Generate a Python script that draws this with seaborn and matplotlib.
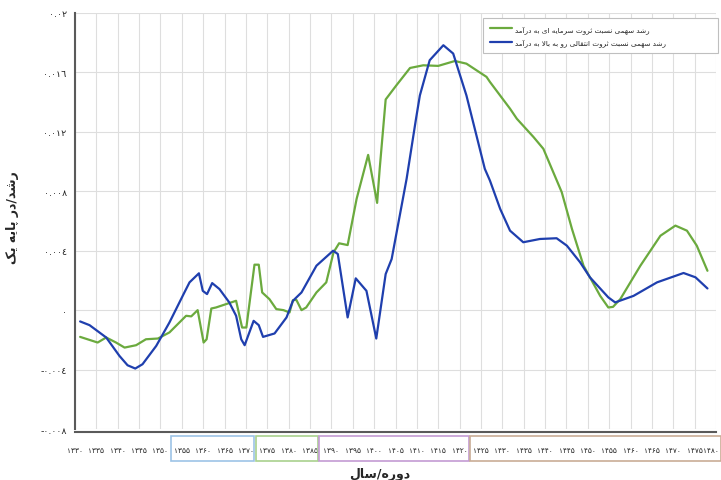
import numpy as np
import pandas as pd
import matplotlib
matplotlib.use('Agg')
import matplotlib.pyplot as plt
import matplotlib.transforms as mtransforms
from matplotlib.patches import Rectangle
import seaborn as sns

# --- data ---
years_green = [1331.2, 1335.3, 1337.3, 1339.6, 1341.6, 1344.3, 1346.6, 1349.4, 1352.1, 1356.0,
               1357.2, 1358.7, 1360.1, 1360.8, 1361.9, 1363.0, 1367.7, 1369.1, 1370.1, 1372.0,
               1373.0, 1373.8, 1375.5, 1377.1, 1378.8, 1380.2, 1381.0, 1381.8, 1383.0, 1384.1,
               1386.5, 1388.8, 1390.5, 1391.8, 1393.8, 1395.9, 1398.6, 1400.7, 1401.3, 1402.7,
               1405.2, 1408.4, 1411.5, 1415.0, 1418.9, 1421.6, 1426.3, 1427.1, 1431.8, 1433.4,
               1437.3, 1439.6, 1443.9, 1446.3, 1449.0, 1452.9, 1454.8, 1455.9, 1457.6, 1462.3,
               1467.0, 1470.5, 1473.2, 1475.5, 1478.0]
vals_green = [-0.00180, -0.00218, -0.00184, -0.00218, -0.00252, -0.00236, -0.00196, -0.00191, -0.00150, -0.00038,
              -0.00042, 0.00000, -0.00218, -0.00196, 0.00011, 0.00018, 0.00063, -0.00117, -0.00117, 0.00306,
              0.00306, 0.00119, 0.00074, 0.00007, 0.00000, -0.00016, 0.00067, 0.00069, 0.00000, 0.00018,
              0.00119, 0.00187, 0.00389, 0.00450, 0.00438, 0.00749, 0.01045, 0.00722, 0.00951, 0.01418,
              0.01513, 0.01630, 0.01648, 0.01644, 0.01677, 0.01659, 0.01570, 0.01536, 0.01356, 0.01288,
              0.01165, 0.01086, 0.00794, 0.00546, 0.00299, 0.00096, 0.00018, 0.00022, 0.00074, 0.00299,
              0.00501, 0.00569, 0.00535, 0.00434, 0.00265]

years_blue = [1331.2, 1333.4, 1337.3, 1340.4, 1342.3, 1344.1, 1345.8, 1349.0, 1352.1, 1355.6,
              1356.8, 1359.0, 1359.9, 1360.9, 1362.1, 1363.8, 1366.1, 1367.7, 1368.9, 1369.7,
              1371.8, 1373.0, 1374.0, 1376.7, 1379.5, 1381.0, 1383.0, 1386.5, 1390.4, 1391.5,
              1393.8, 1395.7, 1398.2, 1400.5, 1402.7, 1404.1, 1407.6, 1409.8, 1410.7, 1413.0,
              1416.2, 1418.5, 1421.6, 1425.9, 1427.1, 1429.5, 1431.8, 1434.9, 1438.8, 1442.7,
              1445.1, 1448.2, 1450.5, 1454.8, 1456.4, 1460.7, 1466.2, 1472.4, 1475.2, 1478.0]
vals_blue = [-0.00076, -0.00101, -0.00184, -0.00308, -0.00371, -0.00393, -0.00364, -0.00241, -0.00083, 0.00119,
             0.00187, 0.00248, 0.00130, 0.00108, 0.00182, 0.00142, 0.00052, -0.00038, -0.00196, -0.00236,
             -0.00072, -0.00101, -0.00180, -0.00157, -0.00049, 0.00063, 0.00119, 0.00299, 0.00400, 0.00378,
             -0.00049, 0.00214, 0.00130, -0.00191, 0.00243, 0.00344, 0.00884, 0.01288, 0.01445, 0.01682,
             0.01783, 0.01727, 0.01445, 0.00951, 0.00872, 0.00681, 0.00535, 0.00457, 0.00479, 0.00484,
             0.00434, 0.00322, 0.00221, 0.00086, 0.00052, 0.00096, 0.00187, 0.00250, 0.00221, 0.00146]

label_green = 'رشد سهمی نسبت ثروت سرمایه ای به درآمد'
label_blue = 'رشد سهمی نسبت ثروت انتقالی رو به بالا به درآمد'
xlabel = 'دوره/سال'
ylabel = 'رشد/در پایه یک'

x_ticks = list(range(1330, 1481, 5))
y_ticks = [-0.008, -0.004, 0, 0.004, 0.008, 0.012, 0.016, 0.02]
y_ticklabels = ['-۰.۰۰۸', '-۰.۰۰٤', '۰', '۰.۰۰٤', '۰.۰۰۸', '۰.۰۱۲', '۰.۰۱٦', '۰.۰۲']

# period boxes under the axis (start, end, colour)
periods = [(1352.4, 1371.9, '#9DC3E6'), (1372.4, 1386.9, '#A9D18E'),
           (1387.1, 1422.2, '#C39BD3'), (1422.5, 1481.2, '#C9AD96')]

# --- minimal arabic/persian shaping (matplotlib has no bidi) ---
FORMS = {
    'ا': ('\uFE8D', '\uFE8E', None, None),
    'آ': ('\uFE81', '\uFE82', None, None),
    'ب': ('\uFE8F', '\uFE90', '\uFE91', '\uFE92'),
    'پ': ('\uFB56', '\uFB57', '\uFB58', '\uFB59'),
    'ت': ('\uFE95', '\uFE96', '\uFE97', '\uFE98'),
    'ث': ('\uFE99', '\uFE9A', '\uFE9B', '\uFE9C'),
    'د': ('\uFEA9', '\uFEAA', None, None),
    'ر': ('\uFEAD', '\uFEAE', None, None),
    'س': ('\uFEB1', '\uFEB2', '\uFEB3', '\uFEB4'),
    'ش': ('\uFEB5', '\uFEB6', '\uFEB7', '\uFEB8'),
    'ق': ('\uFED5', '\uFED6', '\uFED7', '\uFED8'),
    'ک': ('\uFB8E', '\uFB8F', '\uFB90', '\uFB91'),
    'ل': ('\uFEDD', '\uFEDE', '\uFEDF', '\uFEE0'),
    'م': ('\uFEE1', '\uFEE2', '\uFEE3', '\uFEE4'),
    'ن': ('\uFEE5', '\uFEE6', '\uFEE7', '\uFEE8'),
    'ه': ('\uFEE9', '\uFEEA', '\uFEEB', '\uFEEC'),
    'و': ('\uFEED', '\uFEEE', None, None),
    'ی': ('\uFBFC', '\uFBFD', '\uFBFE', '\uFBFF'),
}
LAM_ALEF = {'ا': ('\uFEFB', '\uFEFC'), 'آ': ('\uFEF5', '\uFEF6')}


def fa(s):
    res = []
    i = 0
    n = len(s)
    while i < n:
        c = s[i]
        if c not in FORMS:
            res.append(c)
            i += 1
            continue
        prev = s[i-1] if i > 0 else None
        joined_prev = prev in FORMS and FORMS[prev][2] is not None
        if c == 'ل' and i + 1 < n and s[i+1] in LAM_ALEF:
            res.append(LAM_ALEF[s[i+1]][1 if joined_prev else 0])
            i += 2
            continue
        nxt = s[i+1] if i + 1 < n else None
        joins_next = nxt in FORMS and FORMS[c][2] is not None
        iso, fin, ini, med = FORMS[c]
        if joined_prev and joins_next:
            res.append(med)
        elif joined_prev:
            res.append(fin)
        elif joins_next:
            res.append(ini)
        else:
            res.append(iso)
        i += 1
    return ''.join(reversed(res))


def fa_digits(s):
    return str(s).translate(str.maketrans('0123456789', '۰۱۲۳۴۵۶۷۸۹'))


sns.set_style('white')
plt.rcParams['font.family'] = ['DejaVu Sans']

df_green = pd.DataFrame({'year': years_green, 'val': vals_green})
df_blue = pd.DataFrame({'year': years_blue, 'val': vals_blue})

fig = plt.figure(figsize=(7.21, 4.81), dpi=100)
ax = fig.add_axes([75/721, 1-430/481, 641/721, 416/481])

sns.lineplot(data=df_green, x='year', y='val', color='#6BAA3E', lw=1.6, ax=ax, label=fa(label_green))
sns.lineplot(data=df_blue, x='year', y='val', color='#1F3FAE', lw=1.6, ax=ax, label=fa(label_blue))

# spine position first: it resets the tick objects
for s in ['top', 'right']:
    ax.spines[s].set_visible(False)
for s in ['left', 'bottom']:
    ax.spines[s].set_color('#5A5A5A')
    ax.spines[s].set_linewidth(1.5)
ax.spines['bottom'].set_position(('outward', 2))

ax.set_xlim(1330, 1480)
ax.set_ylim(-0.008, 0.02)
ax.set_xticks(x_ticks)
ax.set_xticklabels([fa_digits(y) for y in x_ticks])
ax.set_yticks(y_ticks)
ax.set_yticklabels(y_ticklabels)
ax.grid(True, color='#DEDEDE', lw=0.8)
ax.set_axisbelow(True)
ax.set_xlabel('')
ax.set_ylabel('')
ax.tick_params(axis='x', direction='out', length=5, width=1, color='#5A5A5A', pad=6,
               labelsize=5.3, labelcolor='#222222')
ax.tick_params(axis='y', direction='out', length=4, width=1, color='#5A5A5A', pad=2,
               labelsize=6.8, labelcolor='#222222')

# nudge the last year label left so it stays inside the figure
last = ax.xaxis.get_major_ticks()[-1].label1
last.set_transform(last.get_transform() + mtransforms.ScaledTranslation(-5/100, 0, fig.dpi_scale_trans))

trans = mtransforms.blended_transform_factory(ax.transData, ax.transAxes)
for x0, x1, col in periods:
    ax.add_patch(Rectangle((x0, -0.0772), x1 - x0, 0.061, transform=trans,
                           fill=False, edgecolor=col, lw=1.2, clip_on=False))

leg = ax.legend(loc='upper left', bbox_to_anchor=(483/721, 1-54/481, 235/721, 35/481),
                bbox_transform=fig.transFigure, mode='expand', fontsize=5.2,
                handlelength=3.0, handletextpad=0.45, borderpad=0.95, labelspacing=0.75,
                borderaxespad=0, frameon=True, fancybox=False, edgecolor='#BFBFBF', framealpha=1)
leg.get_frame().set_linewidth(0.8)

fig.text(380/721, 1-475/481, fa(xlabel), ha='center', va='center', fontsize=9, fontweight='bold')
fig.text(13/721, 1-218/481, fa(ylabel), ha='center', va='center', fontsize=9,
         fontweight='bold', rotation=90)

fig.savefig('out.png', dpi=100)
